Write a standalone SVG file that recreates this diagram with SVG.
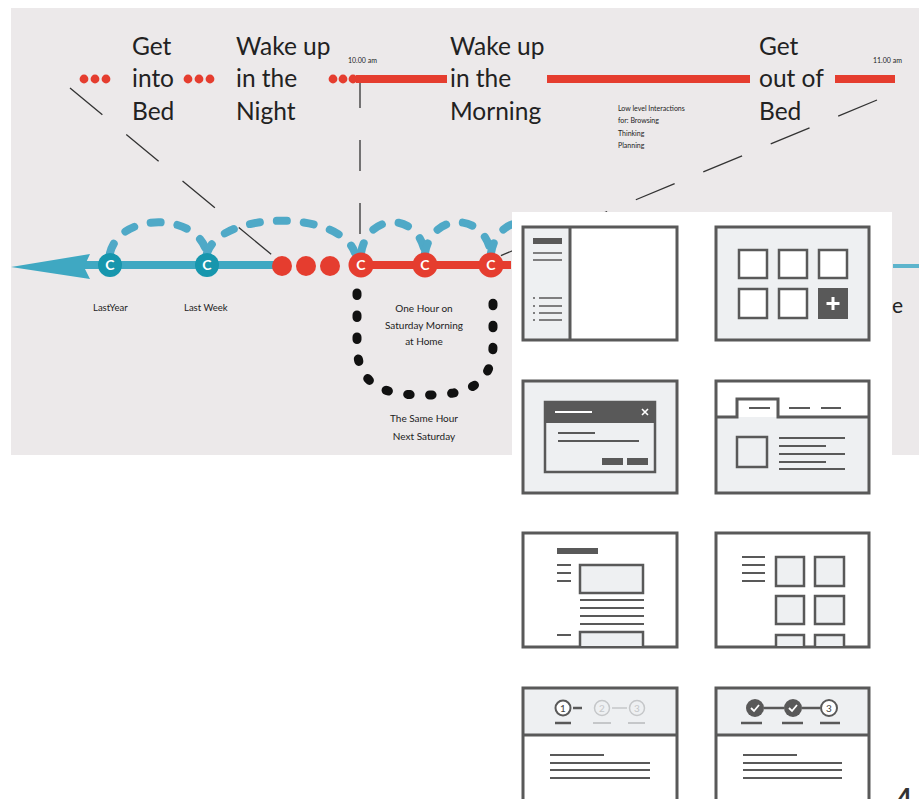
<svg xmlns="http://www.w3.org/2000/svg" width="919" height="799" viewBox="0 0 919 799">
<defs>
<style>
.big{font-family:Lato,"Open Sans",sans-serif;font-size:24.5px;fill:#222}
.sm{font-family:Lato,"Open Sans",sans-serif;font-size:10px;fill:#222}
.tiny{font-family:Lato,"Open Sans",sans-serif;font-size:7px;fill:#222}
.c{font-family:Lato,"Open Sans",sans-serif;font-size:14px;font-weight:bold;fill:#fff;text-anchor:middle}
.red{fill:#e53d2f}
.wf{stroke:#595959;stroke-width:3;fill:none}
.wl{stroke:#595959;stroke-width:2.5}
.lf{fill:#eef0f2}
.dk{fill:#595959}
.guide{stroke:#333;stroke-width:1.3;stroke-dasharray:42 31;fill:none}
.arc{stroke:#4fa9c7;stroke-width:8;stroke-linecap:round;stroke-dasharray:10 17;fill:none}
</style>
</defs>
<rect x="0" y="0" width="919" height="799" fill="#fff"/>
<rect x="11" y="8" width="908" height="447" fill="#ece9ea"/>

<g id="connectors">
<path class="guide" d="M70,88 L272,255"/>
<path class="guide" d="M360,77 L360,257" style="stroke-dasharray:31 32"/>
<path class="guide" d="M877,100 L495,258"/>
<path class="arc" d="M110,253 C120,212 197,212 207,253"/>
<path class="arc" d="M207,253 C222,210 340,210 355,253"/>
<path class="arc" d="M361,253 C368,212 418,212 425,253"/>
<path class="arc" d="M425,253 C432,212 484,212 491,253"/>
<path class="arc" d="M491,253 C498,212 548,212 555,253"/>
<path d="M357,293 L357,345 C357,392 395,395 425,395 C455,395 493,392 493,345 L493,293" stroke="#111" stroke-width="9" stroke-linecap="round" stroke-dasharray="2.5 19.5" fill="none"/>
</g>

<g id="top-timeline">
<circle class="red" cx="84" cy="79" r="4.4"/><circle class="red" cx="95" cy="79" r="4.4"/><circle class="red" cx="106" cy="79" r="4.4"/>
<circle class="red" cx="188" cy="79" r="4.4"/><circle class="red" cx="199" cy="79" r="4.4"/><circle class="red" cx="210" cy="79" r="4.4"/>
<circle class="red" cx="333" cy="79" r="4.4"/><circle class="red" cx="343" cy="79" r="4.4"/><circle class="red" cx="353" cy="79" r="4.4"/>
<rect class="red" x="356" y="75" width="91" height="8"/>
<rect class="red" x="547" y="75" width="203" height="8"/>
<rect class="red" x="835" y="75" width="60" height="8"/>
<text class="tiny" x="348" y="63">10.00 am</text>
<text class="tiny" x="873" y="63">11.00 am</text>
</g>

<g id="label-get-into-bed"><text class="big" x="132" y="55">Get</text><text class="big" x="132" y="87">into</text><text class="big" x="132" y="120">Bed</text></g>
<g id="label-wake-night"><text class="big" x="236" y="55">Wake up</text><text class="big" x="236" y="87">in the</text><text class="big" x="236" y="120">Night</text></g>
<g id="label-wake-morning"><text class="big" x="450" y="55">Wake up</text><text class="big" x="450" y="87">in the</text><text class="big" x="450" y="120">Morning</text></g>
<g id="label-get-out"><text class="big" x="759" y="55">Get</text><text class="big" x="759" y="87">out of</text><text class="big" x="759" y="120">Bed</text></g>
<g id="label-low-level"><text class="tiny" x="618" y="111">Low level Interactions</text><text class="tiny" x="618" y="123">for: Browsing</text><text class="tiny" x="618" y="136">Thinking</text><text class="tiny" x="618" y="148">Planning</text></g>

<g id="timeline">
<rect x="60" y="261" width="220" height="8" fill="#3fa8c2"/>
<polygon points="11,267 90,254 84,267 90,279" fill="#3fa8c2"/>
<rect x="361" y="261" width="150" height="8" fill="#e53d2f"/>
<rect x="893" y="264" width="26" height="4" fill="#5db4cc"/>
</g>
<g id="node-last-year"><circle cx="110" cy="265" r="12" fill="#1796ad"/><text class="c" x="110" y="270">C</text><text class="sm" x="93" y="311" style="font-size:9.5px">LastYear</text></g>
<g id="node-last-week"><circle cx="207" cy="265" r="12" fill="#1796ad"/><text class="c" x="207" y="270">C</text><text class="sm" x="184" y="311" style="font-size:9.5px">Last Week</text></g>
<g id="red-dots"><circle class="red" cx="282" cy="266" r="10"/><circle class="red" cx="306" cy="266" r="10"/><circle class="red" cx="330" cy="266" r="10"/></g>
<g id="node-c1"><circle class="red" cx="361" cy="265" r="12.5"/><text class="c" x="361" y="270">C</text></g>
<g id="node-c2"><circle class="red" cx="425" cy="265" r="12.5"/><text class="c" x="425" y="270">C</text></g>
<g id="node-c3"><circle class="red" cx="491" cy="265" r="12.5"/><text class="c" x="491" y="270">C</text></g>
<g id="label-one-hour" text-anchor="middle"><text class="sm" x="424" y="312">One Hour on</text><text class="sm" x="424" y="329">Saturday Morning</text><text class="sm" x="424" y="345">at Home</text></g>
<g id="label-same-hour" text-anchor="middle"><text class="sm" x="424" y="422">The Same Hour</text><text class="sm" x="424" y="440">Next Saturday</text></g>
<g id="label-e"><text x="892" y="313" style="font-family:Lato,sans-serif;font-size:21px;fill:#222">e</text></g>

<rect x="512" y="212" width="380" height="587" fill="#fff"/>

<g id="wf-sidebar">
<rect x="523" y="227" width="47" height="113" class="lf"/>
<rect x="523" y="227" width="154" height="113" class="wf"/>
<line x1="570" y1="227" x2="570" y2="340" class="wl" style="stroke-width:3"/>
<rect x="533" y="238" width="29" height="6" class="dk"/>
<line x1="533" y1="253" x2="562" y2="253" class="wl" style="stroke-width:1.5"/>
<line x1="533" y1="260" x2="562" y2="260" class="wl" style="stroke-width:1.5"/>
<g class="wl" style="stroke-width:1.5"><line x1="539" y1="298" x2="562" y2="298"/><line x1="539" y1="306" x2="562" y2="306"/><line x1="539" y1="313" x2="562" y2="313"/><line x1="539" y1="320" x2="562" y2="320"/></g>
<g class="dk"><circle cx="534" cy="298" r="1"/><circle cx="534" cy="306" r="1"/><circle cx="534" cy="313" r="1"/><circle cx="534" cy="320" r="1"/></g>
</g>

<g id="wf-grid">
<rect x="716" y="227" width="153" height="113" class="lf"/>
<rect x="716" y="227" width="153" height="113" class="wf"/>
<g class="wf" style="stroke-width:2.5">
<rect x="739" y="250" width="28" height="28" fill="#fff"/><rect x="779" y="250" width="28" height="28" fill="#fff"/><rect x="819" y="250" width="28" height="28" fill="#fff"/>
<rect x="739" y="289" width="28" height="29" fill="#fff"/><rect x="779" y="289" width="28" height="29" fill="#fff"/>
</g>
<rect x="818" y="288" width="30" height="31" class="dk"/>
<path d="M833,297 V310 M826.5,303.5 H839.5" stroke="#fff" stroke-width="3"/>
</g>

<g id="wf-dialog">
<rect x="523" y="381" width="154" height="112" class="lf"/>
<rect x="523" y="381" width="154" height="112" class="wf"/>
<rect x="545" y="402" width="110" height="70" fill="#fff" class="wf" style="stroke-width:2.5"/>
<rect x="545" y="402" width="110" height="21" class="dk"/>
<line x1="555" y1="412" x2="592" y2="412" stroke="#fff" stroke-width="2"/>
<path d="M642,409 L648,415 M648,409 L642,415" stroke="#fff" stroke-width="1.6"/>
<line x1="558" y1="433" x2="595" y2="433" class="wl" style="stroke-width:1.8"/>
<line x1="558" y1="441" x2="639" y2="441" class="wl" style="stroke-width:1.8"/>
<rect x="602" y="458" width="21" height="7" class="dk"/>
<rect x="627" y="458" width="21" height="7" class="dk"/>
</g>

<g id="wf-tabs">
<rect x="716" y="417" width="153" height="76" class="lf"/>
<rect x="716" y="381" width="153" height="112" class="wf"/>
<path d="M716,417 H737 V399 H778 V417 H869" class="wf"/>
<g class="wl" style="stroke-width:2"><line x1="749" y1="408" x2="770" y2="408"/><line x1="789" y1="408" x2="810" y2="408"/><line x1="821" y1="408" x2="841" y2="408"/></g>
<rect x="737" y="437" width="30" height="30" fill="#fff" class="wf" style="stroke-width:2.5"/>
<g class="wl" style="stroke-width:2"><line x1="779" y1="438" x2="845" y2="438"/><line x1="779" y1="446" x2="826" y2="446"/><line x1="779" y1="454" x2="845" y2="454"/><line x1="779" y1="462" x2="826" y2="462"/><line x1="779" y1="469" x2="845" y2="469"/></g>
</g>

<g id="wf-article">
<rect x="523" y="533" width="154" height="114" fill="#fff" class="wf"/>
<rect x="557" y="548" width="41" height="6" class="dk"/>
<g class="wl" style="stroke-width:2"><line x1="557" y1="565" x2="571" y2="565"/><line x1="557" y1="573" x2="571" y2="573"/><line x1="557" y1="581" x2="571" y2="581"/><line x1="557" y1="635" x2="571" y2="635"/>
<line x1="580" y1="600" x2="644" y2="600"/><line x1="580" y1="608" x2="644" y2="608"/><line x1="580" y1="616" x2="644" y2="616"/><line x1="580" y1="624" x2="644" y2="624"/></g>
<rect x="580" y="565" width="63" height="28" class="lf"/>
<rect x="580" y="565" width="63" height="28" class="wf" style="stroke-width:2.5"/>
<rect x="580" y="632" width="63" height="14" class="lf"/>
<path d="M580,646 V632 H643 V646" class="wf" style="stroke-width:2.5"/>
</g>

<g id="wf-gallery">
<rect x="716" y="533" width="153" height="114" fill="#fff" class="wf"/>
<g class="wl" style="stroke-width:2"><line x1="742" y1="557" x2="765" y2="557"/><line x1="742" y1="565" x2="765" y2="565"/><line x1="742" y1="573" x2="765" y2="573"/><line x1="742" y1="581" x2="765" y2="581"/></g>
<g class="wf" style="stroke-width:2.5;fill:#eef0f2">
<rect x="776" y="557" width="28" height="29"/><rect x="815" y="557" width="29" height="29"/>
<rect x="776" y="596" width="28" height="28"/><rect x="815" y="596" width="29" height="28"/>
</g>
<path d="M776,646 V635 H804 V646 M815,646 V635 H844 V646" class="wf" style="stroke-width:2.5;fill:#eef0f2"/>
</g>

<g id="wf-steps-1">
<rect x="523" y="688" width="154" height="47" class="lf"/>
<rect x="523" y="688" width="154" height="120" class="wf"/>
<line x1="523" y1="735" x2="677" y2="735" class="wl" style="stroke-width:3"/>
<circle cx="563" cy="708" r="7.5" fill="#fff" stroke="#595959" stroke-width="2"/>
<text x="563" y="712" text-anchor="middle" style="font-family:Lato,sans-serif;font-size:10px;fill:#444">1</text>
<line x1="573" y1="708" x2="582" y2="708" class="wl" style="stroke-width:2.5"/>
<circle cx="602" cy="708" r="7.5" fill="none" stroke="#c5c7c9" stroke-width="1.5"/>
<text x="602" y="712" text-anchor="middle" style="font-family:Lato,sans-serif;font-size:10px;fill:#c5c7c9">2</text>
<line x1="612" y1="708" x2="627" y2="708" stroke="#c5c7c9" stroke-width="1.5"/>
<circle cx="637" cy="708" r="7.5" fill="none" stroke="#c5c7c9" stroke-width="1.5"/>
<text x="637" y="712" text-anchor="middle" style="font-family:Lato,sans-serif;font-size:10px;fill:#c5c7c9">3</text>
<line x1="555" y1="723" x2="571" y2="723" class="wl"/>
<line x1="593" y1="723" x2="611" y2="723" stroke="#c5c7c9" stroke-width="2"/>
<line x1="628" y1="723" x2="645" y2="723" stroke="#c5c7c9" stroke-width="2"/>
<g class="wl" style="stroke-width:2"><line x1="550" y1="755" x2="604" y2="755"/><line x1="550" y1="763" x2="650" y2="763"/><line x1="550" y1="770" x2="650" y2="770"/><line x1="550" y1="778" x2="650" y2="778"/></g>
</g>

<g id="wf-steps-2">
<rect x="716" y="688" width="153" height="47" class="lf"/>
<rect x="716" y="688" width="153" height="120" class="wf"/>
<line x1="716" y1="735" x2="869" y2="735" class="wl" style="stroke-width:3"/>
<circle cx="755" cy="708" r="9" class="dk"/>
<path d="M751,708 L754,711 L759,705" stroke="#fff" stroke-width="1.8" fill="none"/>
<line x1="764" y1="708" x2="784" y2="708" class="wl"/>
<circle cx="793" cy="708" r="9" class="dk"/>
<path d="M789,708 L792,711 L797,705" stroke="#fff" stroke-width="1.8" fill="none"/>
<line x1="802" y1="708" x2="820" y2="708" class="wl"/>
<circle cx="829" cy="708" r="8" fill="#fff" stroke="#595959" stroke-width="2"/>
<text x="829" y="712" text-anchor="middle" style="font-family:Lato,sans-serif;font-size:10px;fill:#444">3</text>
<g class="wl"><line x1="741" y1="723" x2="762" y2="723"/><line x1="782" y1="723" x2="803" y2="723"/><line x1="820" y1="723" x2="840" y2="723"/></g>
<g class="wl" style="stroke-width:2"><line x1="743" y1="755" x2="797" y2="755"/><line x1="743" y1="763" x2="842" y2="763"/><line x1="743" y1="770" x2="842" y2="770"/><line x1="743" y1="778" x2="842" y2="778"/></g>
</g>

<g id="page-number"><text x="893" y="814" style="font-family:'Liberation Sans',sans-serif;font-size:37px;fill:#333">4</text></g>
</svg>
